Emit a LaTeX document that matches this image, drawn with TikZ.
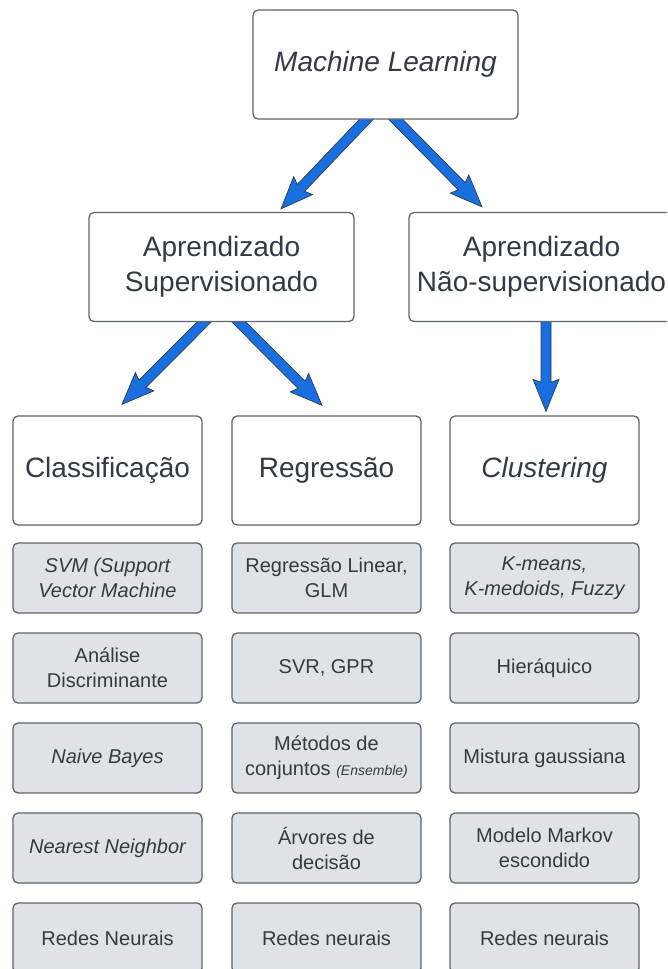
\documentclass[tikz,border=0pt]{standalone}
\usepackage{fontspec}
\setmainfont{Liberation Sans}
\usetikzlibrary{calc}
\pgfdeclarelayer{arrowlayer}
\pgfsetlayers{arrowlayer,main}
\definecolor{arrowblue}{HTML}{1A6FE0}
\definecolor{arrowline}{HTML}{2F3A48}
\definecolor{boxline}{HTML}{5F656D}
\definecolor{boxgray}{HTML}{DFE2E7}
\definecolor{txt}{HTML}{333A44}
% fat arrow from #1 to #2 (coordinate specs with parentheses);
% the shaft starts a little inside the source box, which hides it
\newcommand\fatarrow[2]{%
  \path #1 coordinate (fa0) #2 coordinate (fae);
  \coordinate (fas) at ($(fa0)!-12pt!(fae)$);
  \coordinate (fab) at ($(fae)!29pt!(fas)$);
  \coordinate (fbb) at ($(fae)!32pt!(fas)$);
  \filldraw[fatarrowstyle]
    ($(fas)!5pt!90:(fae)$) -- ($(fab)!5pt!90:(fae)$) -- ($(fbb)!13pt!90:(fae)$)
    -- (fae) -- ($(fbb)!13pt!-90:(fae)$) -- ($(fab)!5pt!-90:(fae)$)
    -- ($(fas)!5pt!-90:(fae)$) -- cycle;
}
\begin{document}
\begin{tikzpicture}[x=1pt,y=-1pt,
  mainbox/.style={draw=boxline, line width=1.3pt, rounded corners=5pt, fill=white,
    text=txt, align=center, inner sep=0pt, font=\fontsize{28}{35}\selectfont},
  bigbox/.style={mainbox, minimum width=265pt, minimum height=109pt},
  catbox/.style={mainbox, minimum width=189pt, minimum height=109pt},
  itembox/.style={mainbox, fill=boxgray, minimum width=189pt, minimum height=70pt,
    font=\fontsize{20}{25}\selectfont},
  fatarrowstyle/.style={fill=arrowblue, draw=arrowline, line width=0.7pt, line join=miter}]
\clip (0,0) rectangle (667,969);
\begin{pgfonlayer}{arrowlayer}
\fill[white] (0,0) rectangle (667,969);
\end{pgfonlayer}

% top levels
\node[bigbox] (ml)  at (385.5,64.5) {\itshape Machine Learning};
\node[bigbox] (as)  at (221.5,267)  {Aprendizado\\Supervisionado};
\node[bigbox] (ans) at (541.5,267)  {Aprendizado\\Não-supervisionado};

% categories
\node[catbox] (cla) at (107.5,470.5) {Classificação};
\node[catbox] (reg) at (326.5,470.5) {Regressão};
\node[catbox] (clu) at (544.5,470.5) {\itshape Clustering};

% column 1
\node[itembox] (c1) at (107.5,578) {\itshape SVM (Support\\\itshape Vector Machine};
\node[itembox] (c2) at (107.5,668) {Análise\\Discriminante};
\node[itembox] (c3) at (107.5,758) {\itshape Naive Bayes};
\node[itembox] (c4) at (107.5,848) {\itshape Nearest Neighbor};
\node[itembox] (c5) at (107.5,938) {Redes Neurais};

% column 2
\node[itembox] (r1) at (326.5,578) {Regressão Linear,\\GLM};
\node[itembox] (r2) at (326.5,668) {SVR, GPR};
\node[itembox] (r3) at (326.5,758) {Métodos de\\conjuntos {\fontsize{14}{15}\selectfont\itshape (Ensemble)}};
\node[itembox] (r4) at (326.5,848) {Árvores de\\decisão};
\node[itembox] (r5) at (326.5,938) {Redes neurais};

% column 3
\node[itembox] (k1) at (544.5,578) {\itshape K-means,\\\itshape K-medoids, Fuzzy};
\node[itembox] (k2) at (544.5,668) {Hieráquico};
\node[itembox] (k3) at (544.5,758) {Mistura gaussiana};
\node[itembox] (k4) at (544.5,848) {Modelo Markov\\escondido};
\node[itembox] (k5) at (544.5,938) {Redes neurais};

% arrows (behind the boxes)
\begin{pgfonlayer}{arrowlayer}
\fatarrow{($(ml.south)+(-19.5,0)$)}{($(as.north)+(59.5,-3)$)}
\fatarrow{($(ml.south)+(10.5,0)$)}{($(ans.north)+(-59.5,-5)$)}
\fatarrow{($(as.south)+(-17.5,0)$)}{($(cla.north)+(14.5,-11)$)}
\fatarrow{($(as.south)+(17.5,0)$)}{($(reg.north)+(-4.5,-10)$)}
\fatarrow{($(ans.south)+(4.5,0)$)}{($(clu.north)+(1.5,-4)$)}
\end{pgfonlayer}
\end{tikzpicture}
\end{document}
